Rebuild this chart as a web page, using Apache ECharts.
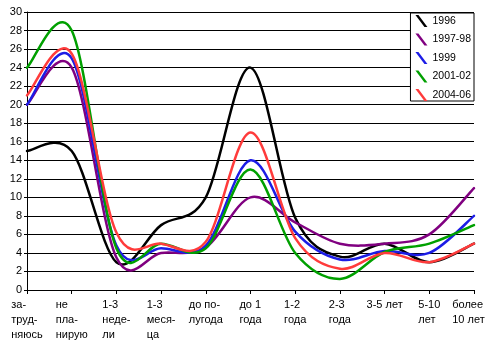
<!DOCTYPE html>
<html>
<head>
<meta charset="utf-8">
<script src="https://cdn.jsdelivr.net/npm/echarts@6/dist/echarts.min.js"></script>
<style>html,body{margin:0;padding:0;background:#fff;}#c{width:493px;height:345px;}</style>
</head>
<body>
<div id="c"></div>
<script>
var categories = ['за-\nтруд-\nняюсь', 'не\nпла-\nнирую', '1-3\nнеде-\nли', '1-3\nмеся-\nца', 'до по-\nлугода', 'до 1\nгода', '1-2\nгода', '2-3\nгода', '3-5 лет', '5-10\nлет', 'более\n10 лет'];
var seriesNames = ['1996', '1997-98', '1999', '2001-02', '2004-06'];
var v1996   = [15, 15, 3, 7, 10, 24, 7.8, 3.6, 5, 3, 5];
var v199798 = [20, 24, 3.5, 4, 4.6, 10, 7.3, 5, 5, 6, 11];
var v1999   = [20, 25, 4.8, 4.5, 4.8, 14, 6.3, 3.3, 4.2, 4, 8];
var v200102 = [24, 28, 4.5, 5, 4.5, 13, 4.0, 1.2, 4.1, 5, 7];
var v200406 = [21, 25.5, 6.2, 5, 5.2, 17, 5.6, 2.3, 4, 3, 5];
var yTicks = [0, 2, 4, 6, 8, 10, 12, 14, 16, 18, 20, 22, 24, 26, 28, 30];

var colors = ['#000000', '#800080', '#1c1ce6', '#00a000', '#ff3b3b'];
var allValues = [v1996, v199798, v1999, v200102, v200406];
var FONT = '"Liberation Sans", Arial, sans-serif';
var K = 1 / 6; // Excel-like smoothing tension

function smoothSeries(name, values, color) {
  return {
    name: name,
    type: 'custom',
    coordinateSystem: 'cartesian2d',
    data: values.map(function (v, i) { return [i, v]; }),
    encode: {x: 0, y: 1},
    color: color,
    itemStyle: {color: color},
    clip: false,
    renderItem: function (params, api) {
      if (params.dataIndex !== 0) return null;
      var pts = values.map(function (v, i) { return api.coord([i, v]); });
      var n = pts.length;
      var d = 'M' + pts[0][0] + ',' + pts[0][1];
      for (var i = 0; i < n - 1; i++) {
        var p0 = pts[Math.max(i - 1, 0)], p1 = pts[i], p2 = pts[i + 1], p3 = pts[Math.min(i + 2, n - 1)];
        var c1x = p1[0] + (p2[0] - p0[0]) * K, c1y = p1[1] + (p2[1] - p0[1]) * K;
        var c2x = p2[0] - (p3[0] - p1[0]) * K, c2y = p2[1] - (p3[1] - p1[1]) * K;
        d += 'C' + c1x + ',' + c1y + ',' + c2x + ',' + c2y + ',' + p2[0] + ',' + p2[1];
      }
      return {
        type: 'path',
        shape: {pathData: d},
        style: {fill: 'none', stroke: color, lineWidth: 2.5, lineJoin: 'round', lineCap: 'round'}
      };
    }
  };
}

var chart = echarts.init(document.getElementById('c'), null, {renderer: 'canvas'});
var option = {
  animation: false,
  backgroundColor: '#ffffff',
  grid: {left: 27, right: 19, top: 12, bottom: 55, containLabel: false, outerBoundsMode: 'none'},
  legend: {
    orient: 'vertical',
    right: 19, top: 13,
    data: seriesNames,
    icon: 'path://M0,0L3,0L12,12L9,12Z',
    itemWidth: 12, itemHeight: 12, itemGap: 6.5, itemTextGap: 2,
    padding: [2, 3, 0, 5],
    borderColor: '#000', borderWidth: 1, backgroundColor: '#fff',
    textStyle: {fontFamily: FONT, fontSize: 10.5, color: '#000'}
  },
  xAxis: {
    type: 'category',
    data: categories,
    boundaryGap: false,
    axisLine: {lineStyle: {color: '#000', width: 1}},
    axisTick: {show: true, inside: false, length: 4, alignWithLabel: true, interval: 0, lineStyle: {color: '#000'}},
    splitLine: {show: false},
    axisLabel: {
      interval: 0, margin: 7, hideOverlap: false,
      fontFamily: FONT, fontSize: 11, color: '#000', lineHeight: 15,
      formatter: function (val, idx) {
        var st = idx === categories.length - 1 ? 'm' : 'l';
        return val.split('\n').map(function (s) { return '{' + st + '|' + s + '}'; }).join('\n');
      },
      rich: {
        l: {align: 'left', fontFamily: FONT, fontSize: 11, color: '#000', lineHeight: 15},
        m: {align: 'left', fontFamily: FONT, fontSize: 11, color: '#000', lineHeight: 15, padding: [0, 11, 0, 0]}
      }
    }
  },
  yAxis: {
    type: 'value',
    min: yTicks[0], max: yTicks[yTicks.length - 1], interval: 2,
    axisLine: {show: true, lineStyle: {color: '#000', width: 1}},
    axisTick: {show: true, length: 3, lineStyle: {color: '#000'}},
    splitLine: {show: true, lineStyle: {color: '#000', width: 1}},
    axisLabel: {margin: 5, fontFamily: FONT, fontSize: 11, color: '#000'}
  },
  series: seriesNames.map(function (n, i) { return smoothSeries(n, allValues[i], colors[i]); })
};
chart.setOption(option);
</script>
</body>
</html>
